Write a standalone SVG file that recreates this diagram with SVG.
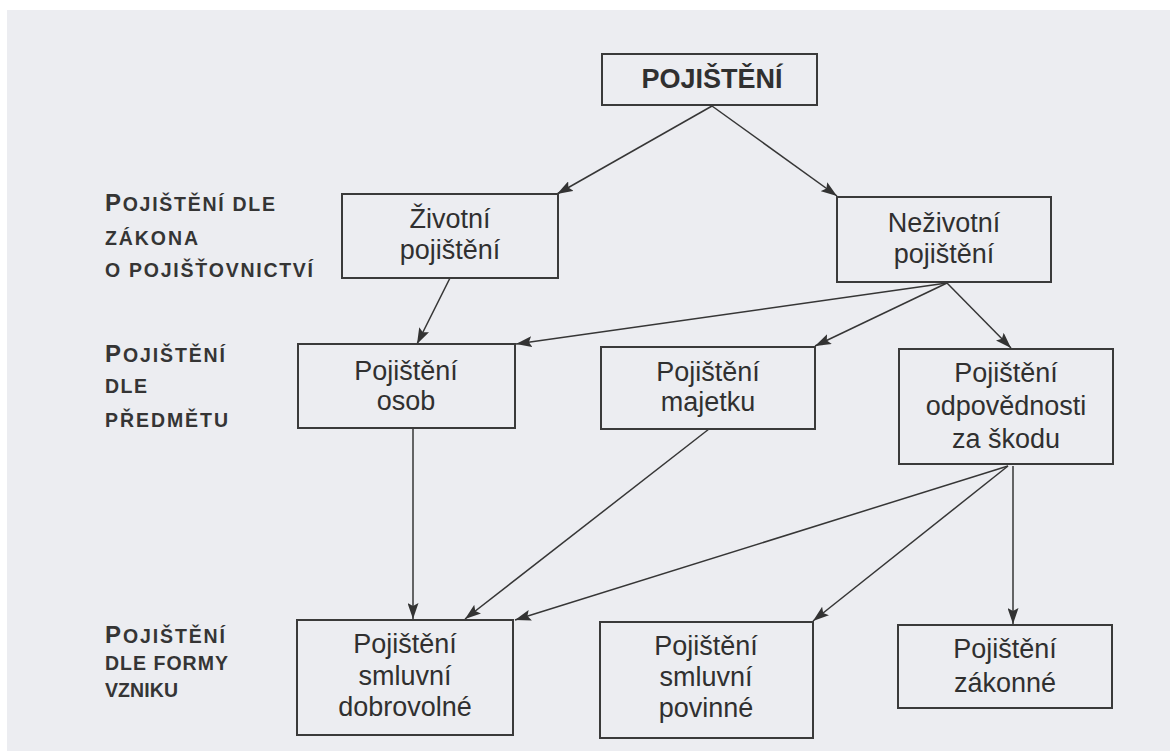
<svg xmlns="http://www.w3.org/2000/svg" width="1170" height="751" viewBox="0 0 1170 751">
<defs>
<marker id="ah" viewBox="0 0 16 11" refX="16" refY="5.5" markerWidth="16" markerHeight="11" markerUnits="userSpaceOnUse" orient="auto">
<path d="M0,0 L16,5.5 L0,11 L3,5.5 Z" fill="#333"/>
</marker>
<style>
.box{fill:none;stroke:#3a3a3a;stroke-width:2}
.t{font-family:"Liberation Sans",Arial,sans-serif;font-size:27px;fill:#303030;text-anchor:middle}
.tb{font-family:"Liberation Sans",Arial,sans-serif;font-size:27px;font-weight:bold;fill:#303030;text-anchor:middle}
.lab{font-family:"Liberation Sans",Arial,sans-serif;font-size:19.5px;font-weight:bold;fill:#353535}
.big{font-size:24px}
.c{fill:none;stroke:#363636;stroke-width:1.5;marker-end:url(#ah)}
</style>
</defs>
<rect x="0" y="0" width="1170" height="751" fill="#ffffff"/>
<rect x="7" y="10" width="1163" height="741" fill="#ecedf1"/>

<g id="labels">
<text class="lab" x="105" y="211" textLength="170" lengthAdjust="spacing"><tspan class="big">P</tspan>OJIŠTĚNÍ DLE</text>
<text class="lab" x="105" y="245" textLength="93" lengthAdjust="spacing">ZÁKONA</text>
<text class="lab" x="105" y="277" textLength="208" lengthAdjust="spacing">O POJIŠŤOVNICTVÍ</text>
<text class="lab" x="105" y="362" textLength="120" lengthAdjust="spacing"><tspan class="big">P</tspan>OJIŠTĚNÍ</text>
<text class="lab" x="105" y="393" textLength="42" lengthAdjust="spacing">DLE</text>
<text class="lab" x="105" y="427" textLength="123" lengthAdjust="spacing">PŘEDMĚTU</text>
<text class="lab" x="105" y="643" textLength="120" lengthAdjust="spacing"><tspan class="big">P</tspan>OJIŠTĚNÍ</text>
<text class="lab" x="105" y="670" textLength="123" lengthAdjust="spacing">DLE FORMY</text>
<text class="lab" x="105" y="697" textLength="73" lengthAdjust="spacing">VZNIKU</text>
</g>

<g id="connectors">
<line class="c" x1="712" y1="106" x2="557" y2="194"/>
<line class="c" x1="712" y1="106" x2="837" y2="196"/>
<line class="c" x1="450" y1="278" x2="417" y2="344"/>
<line class="c" x1="947" y1="283" x2="516" y2="344"/>
<line class="c" x1="947" y1="283" x2="815" y2="346"/>
<line class="c" x1="947" y1="283" x2="1011" y2="348"/>
<line class="c" x1="413" y1="428" x2="413" y2="619"/>
<line class="c" x1="709" y1="429" x2="465" y2="619"/>
<line class="c" x1="1008" y1="466" x2="515" y2="620"/>
<line class="c" x1="1008" y1="466" x2="813" y2="621"/>
<line class="c" x1="1013" y1="466" x2="1013" y2="624"/>
</g>

<g id="n-pojisteni">
<rect class="box" x="602" y="54" width="215" height="51"/>
<text class="tb" x="712" y="88">POJIŠTĚNÍ</text>
</g>
<g id="n-zivotni">
<rect class="box" x="342" y="194" width="216" height="84"/>
<text class="t" x="450" y="228">Životní</text>
<text class="t" x="450" y="259">pojištění</text>
</g>
<g id="n-nezivotni">
<rect class="box" x="837" y="197" width="214" height="85"/>
<text class="t" x="944" y="232">Neživotní</text>
<text class="t" x="944" y="263">pojištění</text>
</g>
<g id="n-osob">
<rect class="box" x="298" y="344" width="217" height="84"/>
<text class="t" x="406" y="380">Pojištění</text>
<text class="t" x="406" y="410">osob</text>
</g>
<g id="n-majetku">
<rect class="box" x="601" y="347" width="214" height="82"/>
<text class="t" x="708" y="381">Pojištění</text>
<text class="t" x="708" y="411">majetku</text>
</g>
<g id="n-odpovednosti">
<rect class="box" x="899" y="349" width="214" height="115"/>
<text class="t" x="1006" y="382">Pojištění</text>
<text class="t" x="1006" y="415">odpovědnosti</text>
<text class="t" x="1006" y="448">za škodu</text>
</g>
<g id="n-dobrovolne">
<rect class="box" x="297" y="620" width="216" height="115"/>
<text class="t" x="405" y="653">Pojištění</text>
<text class="t" x="405" y="685">smluvní</text>
<text class="t" x="405" y="716">dobrovolné</text>
</g>
<g id="n-povinne">
<rect class="box" x="600" y="622" width="213" height="116"/>
<text class="t" x="706" y="655">Pojištění</text>
<text class="t" x="706" y="686">smluvní</text>
<text class="t" x="706" y="717">povinné</text>
</g>
<g id="n-zakonne">
<rect class="box" x="898" y="625" width="214" height="83"/>
<text class="t" x="1005" y="658">Pojištění</text>
<text class="t" x="1005" y="692">zákonné</text>
</g>
</svg>
